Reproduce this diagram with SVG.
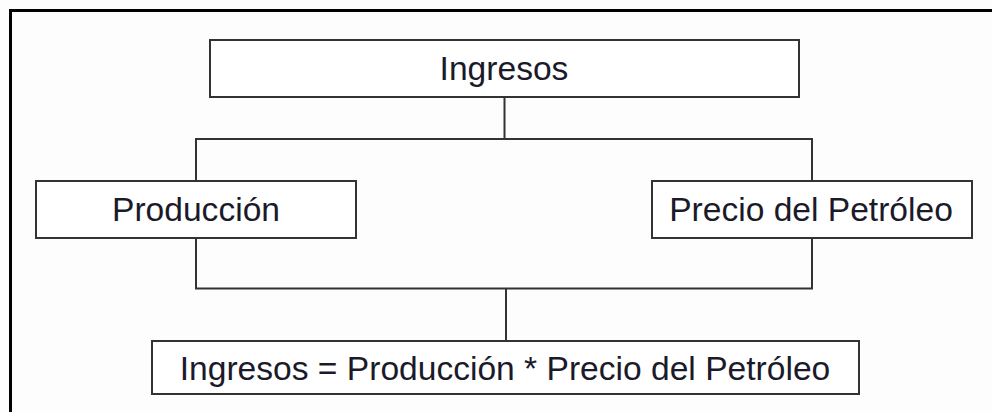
<svg xmlns="http://www.w3.org/2000/svg" width="992" height="412" viewBox="0 0 992 412">
<style>
.box{fill:#fff;stroke:#333;stroke-width:2}
.lbl{font-family:"Liberation Sans",Arial,sans-serif;font-size:33.6px;fill:#1a1a2a;text-anchor:middle}
.con{fill:none;stroke:#333;stroke-width:2}
</style>
<rect x="0" y="0" width="992" height="412" fill="#fdfdfd"/>
<path d="M10.5 420 V10.5 H1000" fill="none" stroke="#000" stroke-width="3"/>
<g id="connectors">
<path class="con" d="M504.5 97 V139 M196 181 V139 H812 V181"/>
<path class="con" d="M196 238 V288.5 H812 V238 M506 288.5 V341"/>
</g>
<g id="ingresos">
<rect class="box" x="210" y="40" width="589" height="57"/>
<text class="lbl" x="504" y="79.5">Ingresos</text>
</g>
<g id="produccion">
<rect class="box" x="36" y="181" width="320" height="57"/>
<text class="lbl" x="196" y="221">Producción</text>
</g>
<g id="precio">
<rect class="box" x="652" y="181" width="320" height="57"/>
<text class="lbl" x="811" y="221">Precio del Petróleo</text>
</g>
<g id="formula">
<rect class="box" x="152" y="341" width="707" height="53"/>
<text class="lbl" x="505" y="380">Ingresos = Producción * Precio del Petróleo</text>
</g>
</svg>
